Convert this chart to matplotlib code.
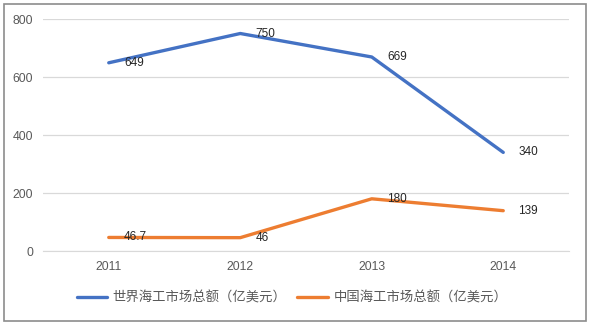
import matplotlib.pyplot as plt
from matplotlib.patches import Rectangle

plt.rcParams['font.family'] = ['Noto Sans CJK SC', 'DejaVu Sans']

years = ['2011', '2012', '2013', '2014']
world = [649, 750, 669, 340]
china = [46.7, 46, 180, 139]
world_labels = ['649', '750', '669', '340']
china_labels = ['46.7', '46', '180', '139']

fig = plt.figure(figsize=(5.9, 3.25), dpi=100)
ax = fig.add_axes([43/590, 1 - 251/325, (569 - 43)/590, (251 - 19)/325])

x = range(len(years))
ax.plot(x, world, color='#4472C4', lw=2.4, solid_capstyle='round',
        label='世界海工市场总额（亿美元）')
ax.plot(x, china, color='#ED7D31', lw=2.4, solid_capstyle='round',
        label='中国海工市场总额（亿美元）')

for xi, v, t in zip(x, world, world_labels):
    ax.annotate(t, (xi, v), xytext=(11, 0), textcoords='offset points',
                va='center', ha='left', fontsize=8.5, color='#262626',
                family='Liberation Sans')
for xi, v, t in zip(x, china, china_labels):
    ax.annotate(t, (xi, v), xytext=(11, 0), textcoords='offset points',
                va='center', ha='left', fontsize=8.5, color='#262626',
                family='Liberation Sans')

ax.set_xlim(-0.5, 3.5)
ax.set_ylim(0, 800)
ax.set_yticks([0, 200, 400, 600, 800])
ax.set_xticks(list(x))
ax.set_xticklabels(years)
ax.grid(axis='y', color='#d9d9d9', lw=0.9)
ax.set_axisbelow(True)
for s in ['top', 'right', 'left']:
    ax.spines[s].set_visible(False)
ax.spines['bottom'].set_color('#d9d9d9')
ax.tick_params(length=0, labelsize=8.8, labelcolor='#595959', pad=7)
for lab in ax.get_xticklabels() + ax.get_yticklabels():
    lab.set_family('Liberation Sans')

leg = fig.legend(loc='center', bbox_to_anchor=(292/590, 1 - 298/325), ncol=2,
                 frameon=False, fontsize=9.6, handlelength=2.3, columnspacing=0.8,
                 handletextpad=0.4)
for t in leg.get_texts():
    t.set_color('#595959')

fig.patches.append(Rectangle((4/590, 4/325), 582/590, 317/325, transform=fig.transFigure,
                             fill=False, edgecolor='#8c8c8c', lw=1.2))

fig.savefig('out.png', dpi=100)
